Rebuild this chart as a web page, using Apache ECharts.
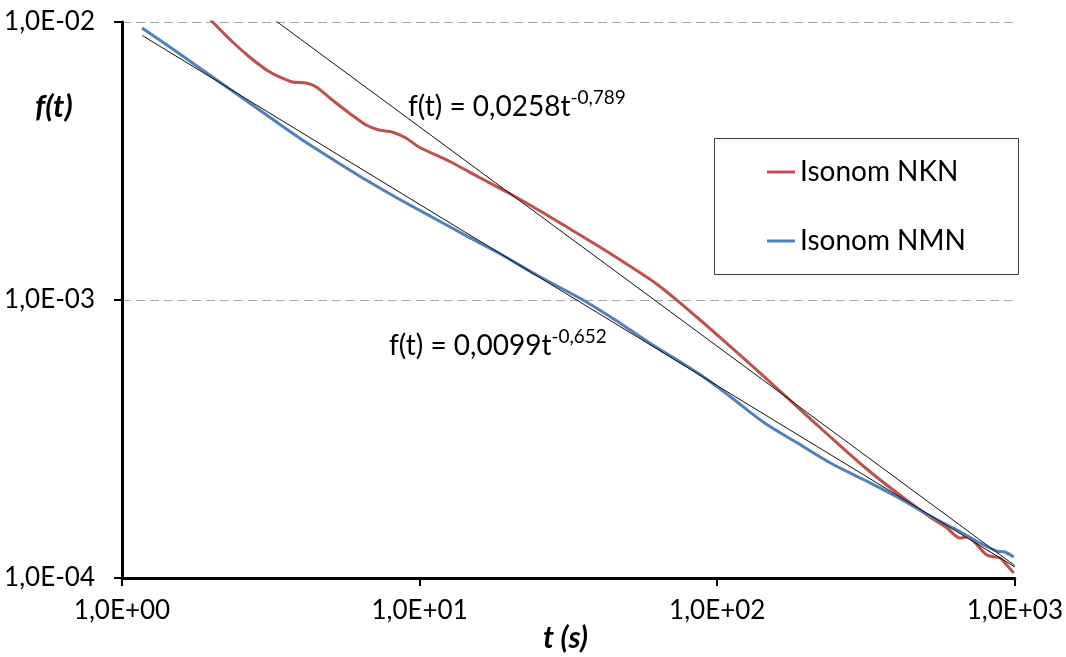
<!DOCTYPE html>
<html>
<head>
<meta charset="utf-8">
<script src="https://cdn.jsdelivr.net/npm/echarts@6/dist/echarts.min.js"></script>
<style>
html,body{margin:0;padding:0;background:#fff;}
#chart{width:1066px;height:657px;}
</style>
</head>
<body>
<div id="chart"></div>
<script>
// ---- data ----
var nknT = [1.896, 2.017, 2.353, 2.683, 3.059, 3.381, 3.737, 4.163, 4.496, 5.087, 5.799, 6.609, 7.306, 8.078, 8.998, 9.945, 12.53, 15.79, 19.91, 25.08, 31.61, 39.83, 50.20, 63.25, 86.10, 111.0, 144.3, 186.1, 240.1, 312.0, 402.3, 518.9, 591.6, 653.9, 690.2, 805.0, 889.9, 939.2, 991.5];
var nknF = [0.01077, 0.0100, 0.008474, 0.007482, 0.006721, 0.006342, 0.006085, 0.006035, 0.005838, 0.005241, 0.004707, 0.004261, 0.004088, 0.004021, 0.003826, 0.003551, 0.003162, 0.002770, 0.002426, 0.002107, 0.001816, 0.001564, 0.001336, 0.001132, 0.0008616, 0.0006776, 0.0005284, 0.0004121, 0.0003215, 0.0002508, 0.0002022, 0.0001657, 0.0001513, 0.0001393, 0.0001405, 0.0001210, 0.0001180, 0.0001113, 0.0001042];

var nmnT = [1.167, 1.448, 1.824, 2.299, 2.897, 3.944, 5.087, 6.609, 8.524, 10.99, 14.62, 18.43, 25.08, 34.95, 45.42, 58.58, 86.10, 111.0, 144.3, 186.1, 240.1, 312.0, 402.3, 518.9, 639.1, 763.0, 869.8, 925.1, 991.5];
var nmnF = [0.009515, 0.008131, 0.006833, 0.005741, 0.004826, 0.003826, 0.003215, 0.002702, 0.002309, 0.001989, 0.001684, 0.001476, 0.001220, 0.001008, 0.0008474, 0.0007063, 0.0005462, 0.0004479, 0.0003611, 0.0003059, 0.0002592, 0.0002252, 0.0001956, 0.0001671, 0.0001488, 0.0001336, 0.0001250, 0.0001240, 0.0001190];

// trendline end points (power fits shown on the chart)
var fitNknT = [1.17, 1000];
var fitNknF = [0.0228, 0.0001108];
var fitNmnT = [1.17, 1000];
var fitNmnF = [0.00894, 0.0001096];

var seriesNames = ['Isonom NKN', 'Isonom NMN'];
var xTickLabels = ['1,0E+00', '1,0E+01', '1,0E+02', '1,0E+03'];
var yTickLabels = {'-4': '1,0E-04', '-3': '1,0E-03', '-2': '1,0E-02'};
var eq1 = ['f(t) = 0,0258t', '-0,789'];
var eq2 = ['f(t) = 0,0099t', '-0,652'];

function zip(a, b) { return a.map(function (v, i) { return [v, b[i]]; }); }

var FONT = 'Lato';
var chart = echarts.init(document.getElementById('chart'), null, {renderer: 'canvas'});
chart.setOption({
  animation: false,
  backgroundColor: '#ffffff',
  grid: {left: 122, right: 48, top: 22, bottom: 79, containLabel: false},
  xAxis: {
    type: 'log', logBase: 10, min: 1, max: 1000,
    axisLine: {show: true, lineStyle: {color: '#000', width: 3}},
    axisTick: {show: true, length: 8, lineStyle: {color: '#000', width: 2}},
    axisLabel: {
      margin: 20, fontFamily: FONT, fontSize: 26, color: '#000',
      formatter: function (v) { return xTickLabels[Math.round(Math.log10(v))]; }
    },
    splitLine: {show: false},
    minorTick: {show: false}
  },
  yAxis: {
    type: 'log', logBase: 10, min: 0.0001, max: 0.01,
    axisLine: {show: true, lineStyle: {color: '#000', width: 3}},
    axisTick: {show: true, length: 8, lineStyle: {color: '#000', width: 2}},
    axisLabel: {
      margin: 27, fontFamily: FONT, fontSize: 26, color: '#000',
      formatter: function (v) { return yTickLabels[String(Math.round(Math.log10(v)))]; }
    },
    splitLine: {show: true, lineStyle: {color: '#a6a6a6', width: 1, type: [9, 5]}}
  },
  legend: {
    data: seriesNames,
    orient: 'vertical',
    left: 767, top: 157, padding: 0,
    icon: 'rect', itemWidth: 28, itemHeight: 3, itemGap: 39,
    textStyle: {fontFamily: FONT, fontSize: 28, color: '#000', lineHeight: 30}
  },
  series: [
    {name: seriesNames[0], type: 'line', data: zip(nknT, nknF), symbol: 'none', smooth: 0.3,
     lineStyle: {color: '#C0504D', width: 3}, itemStyle: {color: '#C0504D'}, z: 2},
    {name: seriesNames[1], type: 'line', data: zip(nmnT, nmnF), symbol: 'none', smooth: 0.3,
     lineStyle: {color: '#4F81BD', width: 3}, itemStyle: {color: '#4F81BD'}, z: 2},
    {name: 'fit1', type: 'line', data: zip(fitNknT, fitNknF), symbol: 'none',
     lineStyle: {color: '#111', width: 1}, z: 3, silent: true},
    {name: 'fit2', type: 'line', data: zip(fitNmnT, fitNmnF), symbol: 'none',
     lineStyle: {color: '#111', width: 1}, z: 3, silent: true}
  ],
  graphic: [
    {type: 'rect', shape: {x: 714.5, y: 138.5, width: 304, height: 136},
     style: {fill: 'none', stroke: '#404040', lineWidth: 1}, z: 10},
    {type: 'text', left: 408, top: 88, z: 10,
     style: {text: '{a|' + eq1[0] + '}{b|' + eq1[1] + '}', rich: {
       a: {fontFamily: FONT, fontSize: 28, fill: '#000', lineHeight: 32},
       b: {fontFamily: FONT, fontSize: 19, fill: '#000', lineHeight: 32, padding: [0, 0, 18, 0]}
     }}},
    {type: 'text', left: 389, top: 327, z: 10,
     style: {text: '{a|' + eq2[0] + '}{b|' + eq2[1] + '}', rich: {
       a: {fontFamily: FONT, fontSize: 28, fill: '#000', lineHeight: 32},
       b: {fontFamily: FONT, fontSize: 19, fill: '#000', lineHeight: 32, padding: [0, 0, 18, 0]}
     }}},
    {type: 'text', left: 35, top: 91, z: 10,
     style: {text: 'f(t)', fontFamily: FONT, fontSize: 31, fontWeight: 'bold', fontStyle: 'italic', fill: '#000'}},
    {type: 'text', left: 543, top: 623, z: 10,
     style: {text: 't (s)', fontFamily: FONT, fontSize: 30, fontWeight: 'bold', fontStyle: 'italic', fill: '#000'}}
  ]
});
</script>
</body>
</html>
